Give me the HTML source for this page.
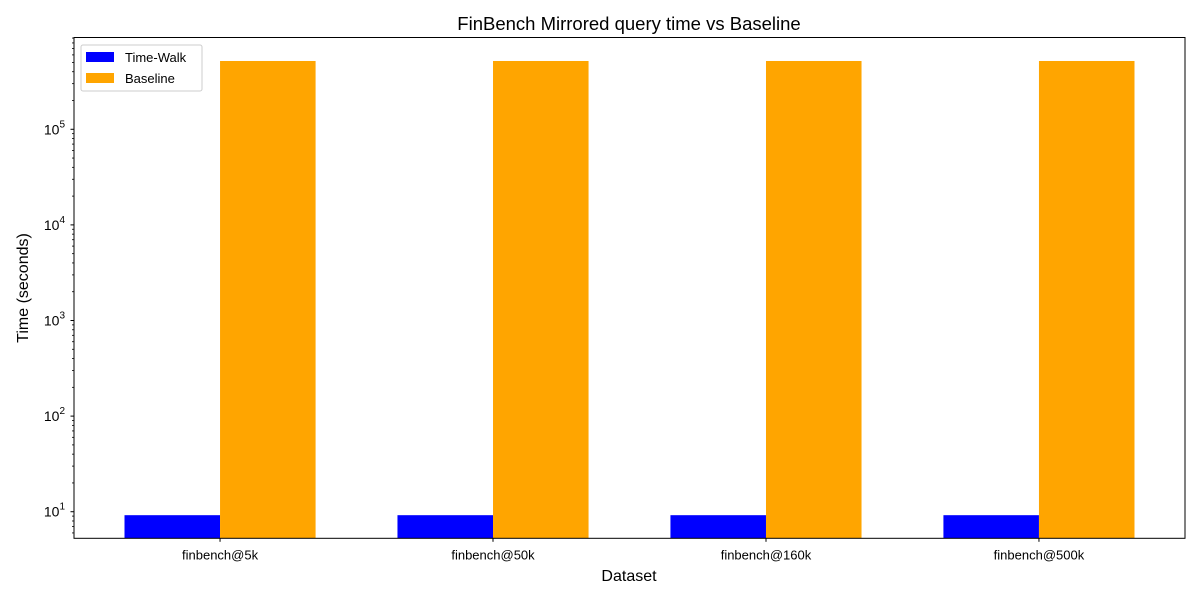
<!DOCTYPE html>
<html><head><meta charset="utf-8"><style>
html,body{margin:0;padding:0;background:#fff}
svg{display:block;font-family:"Liberation Sans","DejaVu Sans",sans-serif}
</style></head><body>
<svg id="chart" width="1200" height="600" viewBox="0 0 1200 600">
<rect width="1200" height="600" fill="#fff"/>
<text x="629" y="30" font-size="18.5" text-anchor="middle" fill="#000">FinBench Mirrored query time vs Baseline</text>
<text x="629" y="581" font-size="16" text-anchor="middle">Dataset</text>
<text x="28" y="288" font-size="16" text-anchor="middle" transform="rotate(-90 28 288)">Time (seconds)</text>
<g id="bars"></g>
<g id="yaxis"></g>
<g id="xaxis"></g>
<rect x="74" y="37.5" width="1111" height="500.8" fill="none" stroke="#000" stroke-width="1"/>
<g>
<rect x="81" y="45" width="121" height="46" rx="2" fill="#fff" stroke="#ccc"/>
<rect x="86" y="52" width="28" height="10" fill="#0000ff"/>
<text x="125" y="62" font-size="13">Time-Walk</text>
<rect x="86" y="73" width="28" height="10" fill="#ffa500"/>
<text x="125" y="83" font-size="13">Baseline</text>
</g>
</svg>
<script>
const categories = ["finbench@5k","finbench@50k","finbench@160k","finbench@500k"];
const timeWalk = [9.2, 9.2, 9.2, 9.2];
const baseline = [518000, 518000, 518000, 518000];
const yTickExps = [1,2,3,4,5];

const NS="http://www.w3.org/2000/svg";
const L=74,R=1185,T=37.5,B=538.3;
const xMin=-0.535,xMax=3.535, logMin=0.722, logMax=5.960;
const xs=v=>L+(v-xMin)/(xMax-xMin)*(R-L);
const ys=v=>B-(Math.log10(v)-logMin)/(logMax-logMin)*(B-T);
function mk(tag,attrs,parent){const e=document.createElementNS(NS,tag);for(const k in attrs)e.setAttribute(k,attrs[k]);parent.appendChild(e);return e;}
const bars=document.getElementById('bars'),ya=document.getElementById('yaxis'),xa=document.getElementById('xaxis');
const w=0.35;
categories.forEach((c,i)=>{
  const y1=ys(timeWalk[i]);
  const b1=mk('rect',{x:xs(i-w),y:y1,width:xs(w)-xs(0),height:B-y1,fill:'#0000ff'},bars);
  
  
  const y2=ys(baseline[i]);
  const b2=mk('rect',{x:xs(i),y:y2,width:xs(w)-xs(0),height:B-y2,fill:'#ffa500'},bars);
  
  
  mk('line',{x1:xs(i),x2:xs(i),y1:B,y2:B+3.5,stroke:'#000'},xa);
  const t=mk('text',{x:xs(i),y:B+21,'font-size':13,'text-anchor':'middle'},xa);
  t.textContent=c;
  
  
});
for(let e=0;e<=6;e++){for(let m=1;m<10;m++){const v=m*Math.pow(10,e);const y=ys(v);if(y<T-0.1||y>B+0.1)continue;
  if(m===1){mk('line',{x1:L-3.5,x2:L,y1:y,y2:y,stroke:'#000'},ya);}
  else mk('line',{x1:L-2,x2:L,y1:y,y2:y,stroke:'#000','stroke-width':0.8},ya);}}
yTickExps.forEach(e=>{
  const y=ys(Math.pow(10,e));
  const t=mk('text',{x:L-9,y:y+5,'font-size':14,'text-anchor':'end'},ya);
  t.innerHTML='10<tspan dy="-7" font-size="10">'+e+'</tspan>';
  
  
});
</script>
</body></html>
